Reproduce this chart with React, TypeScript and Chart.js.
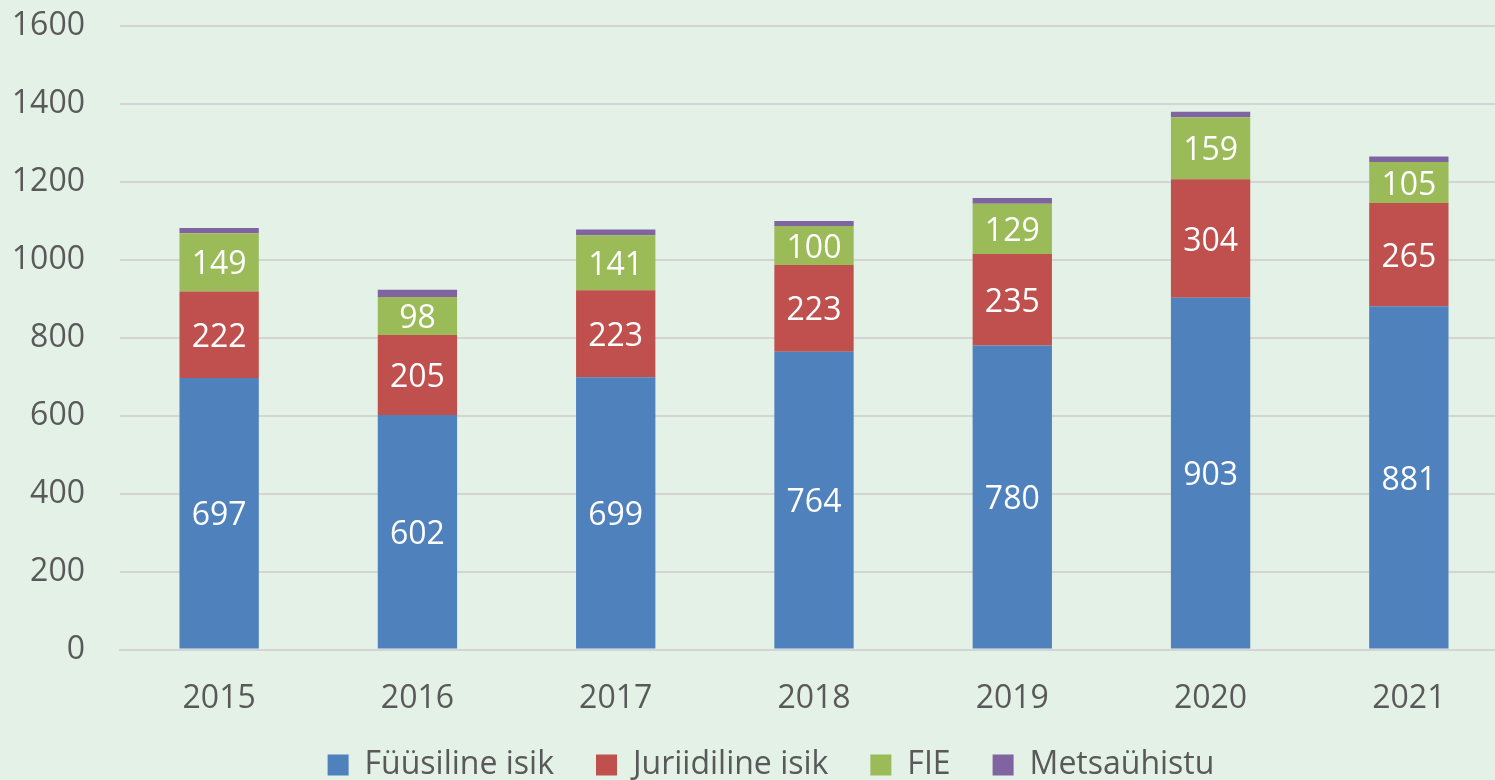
import React, { useEffect, useRef } from "react";
import { Chart, registerables } from "chart.js";

Chart.register(...registerables);

const years = ["2015", "2016", "2017", "2018", "2019", "2020", "2021"];
const fuusiline = [697, 602, 699, 764, 780, 903, 881];
const juriidiline = [222, 205, 223, 223, 235, 304, 265];
const fie = [149, 98, 141, 100, 129, 159, 105];
const metsauhistu = [14, 18, 15, 13, 15, 14, 14];
const yTicks = [0, 200, 400, 600, 800, 1000, 1200, 1400, 1600];

const FONT = "'Open Sans', sans-serif";
const TEXT = "#595959";
const BG = "#e3f1e6";

const segLabels = {
  id: "segLabels",
  afterDatasetsDraw(chart: any) {
    const ctx = chart.ctx;
    ctx.save();
    ctx.font = `32px ${FONT}`;
    ctx.fillStyle = "#ffffff";
    ctx.textAlign = "center";
    ctx.textBaseline = "middle";
    for (let d = 0; d < 3; d++) {
      const meta = chart.getDatasetMeta(d);
      const data = chart.data.datasets[d].data;
      meta.data.forEach((el: any, i: number) => {
        const y = (el.y + el.base) / 2 + 3;
        ctx.fillText(String(data[i]), el.x, y);
      });
    }
    ctx.restore();
  },
};

const bgPlugin = {
  id: "bgFill",
  beforeDraw(chart: any) {
    const ctx = chart.ctx;
    ctx.save();
    ctx.fillStyle = BG;
    ctx.fillRect(0, 0, chart.width, chart.height);
    ctx.restore();
  },
};

const legendShift = {
  id: "legendShift",
  afterLayout(chart: any) {
    const lg = chart.legend;
    if (!lg) return;
    const dx = 17;
    const dy = -41;
    lg.left += dx;
    lg.right += dx;
    lg.top += dy;
    lg.bottom += dy;
  },
};

export default function App() {
  const ref = useRef<HTMLCanvasElement>(null);
  useEffect(() => {
    document.body.style.margin = "0";
    document.body.style.background = BG;
    const chart = new Chart(ref.current!, {
      type: "bar",
      data: {
        labels: years,
        datasets: [
          { label: "Füüsiline isik", data: fuusiline, backgroundColor: "#4f81bd" },
          { label: "Juriidiline isik", data: juriidiline, backgroundColor: "#c0504d" },
          { label: "FIE", data: fie, backgroundColor: "#9bbb59" },
          { label: "Metsaühistu", data: metsauhistu, backgroundColor: "#8064a2" },
        ],
      },
      options: {
        responsive: false,
        animation: false,
        datasets: { bar: { barPercentage: 0.4, categoryPercentage: 1 } },
        layout: { padding: { left: 0, right: 12, top: 0, bottom: -52 } },
        plugins: {
          tooltip: { enabled: false },
          legend: {
            position: "bottom",
            labels: {
              font: { family: FONT, size: 32 },
              color: TEXT,
              boxWidth: 21,
              boxHeight: 21,
              padding: 42,
            },
          },
        },
        scales: {
          x: {
            stacked: true,
            grid: { display: false, drawTicks: false },
            border: { display: true, color: "#d4d4d4", width: 2 },
            ticks: { font: { family: FONT, size: 32 }, color: TEXT, padding: 30 },
          },
          y: {
            stacked: true,
            min: 0,
            max: 1600,
            afterBuildTicks(scale: any) {
              scale.ticks = yTicks.map((v) => ({ value: v }));
            },
            afterFit(scale: any) {
              scale.width = 120;
              scale.paddingTop = 26;
              scale.paddingBottom = 0;
            },
            grid: { color: "#d4d4d4", lineWidth: 2, drawTicks: false },
            border: { display: false },
            ticks: {
              font: { family: FONT, size: 32 },
              color: TEXT,
              padding: 35,
              callback: (v: any) => String(v),
            },
          },
        },
      },
      plugins: [bgPlugin, legendShift, segLabels],
    });
    return () => chart.destroy();
  }, []);
  return (
    <div style={{ width: 1495, height: 780, overflow: "hidden", background: BG }}>
      <canvas ref={ref} width={1520} height={780} style={{ display: "block" }} />
    </div>
  );
}
